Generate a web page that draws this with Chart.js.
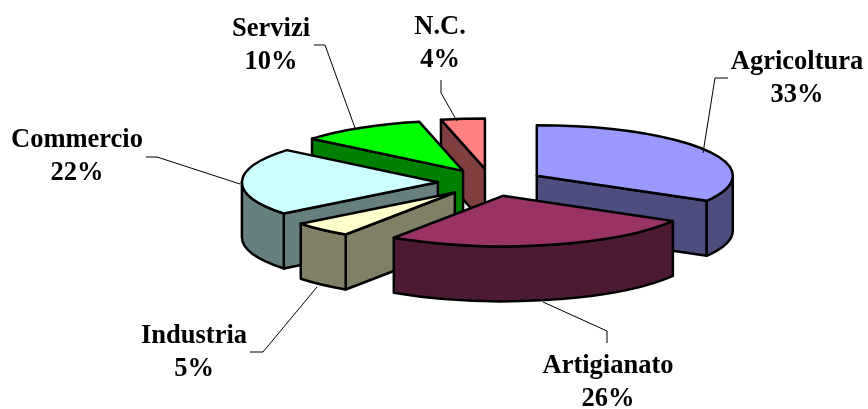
<!DOCTYPE html>
<html>
<head>
<meta charset="utf-8">
<title>Settori</title>
<script src="https://cdn.jsdelivr.net/npm/chart.js@4"></script>
<style>
  html, body { margin: 0; padding: 0; background: #ffffff; }
  canvas { display: block; }
</style>
</head>
<body>
<canvas id="myChart" width="868" height="409"></canvas>
<script>
// values, they round to the printed percentages
const categories = ["Agricoltura", "Artigianato", "Industria", "Commercio", "Servizi", "N.C."];
const shares = [33.3, 26.1, 5, 21.6, 10.4, 3.6];

const topColors = ["#9999ff", "#993366", "#ffffcc", "#ccffff", "#00ff00", "#ff8080"];
const sideColors = ["#4d4d80", "#4d1a33", "#808066", "#668080", "#008000", "#804040"];

// label centre x, first line y, then the leader line points
const labelSpots = [
  { x: 797, y: 62, leader: [[703, 153], [715, 78], [728, 78]] },
  { x: 608, y: 366, leader: [[543, 302], [607, 331], [607, 343]] },
  { x: 194, y: 336, leader: [[317, 287], [263, 352], [250, 352]] },
  { x: 77, y: 140, leader: [[240, 184], [157, 157], [146, 157]] },
  { x: 271, y: 29, leader: [[355, 128], [325, 45], [314, 45]] },
  { x: 440, y: 27, leader: [[457, 121], [441, 93], [441, 80]] },
];

const shiftX = 490.9 - 434;
const shiftY = 182.5 - 204.5;
const squash = 0.2577;
const explode = 53;
const depth = 55;
const lineHeight = 33;

function drawSlice(ctx, arc, i) {
  let a0 = arc.startAngle;
  let a1 = arc.endAngle;
  let mid = (a0 + a1) / 2;
  let cx = arc.x + shiftX + Math.cos(mid) * explode;
  let cy = arc.y + shiftY + Math.sin(mid) * explode * squash;
  let rx = arc.outerRadius;
  let ry = rx * squash;

  ctx.lineWidth = 2.5;
  ctx.lineJoin = "round";
  ctx.strokeStyle = "#000000";
  ctx.fillStyle = sideColors[i];

  // cut faces that look towards the viewer
  [[a0, a0 - Math.PI / 2], [a1, a1 + Math.PI / 2]].forEach(function (face) {
    if (Math.sin(face[1]) <= 0.001) return;
    let px = cx + Math.cos(face[0]) * rx;
    let py = cy + Math.sin(face[0]) * ry;
    ctx.beginPath();
    ctx.moveTo(cx, cy);
    ctx.lineTo(px, py);
    ctx.lineTo(px, py + depth);
    ctx.lineTo(cx, cy + depth);
    ctx.closePath();
    ctx.fill();
    ctx.stroke();
  });

  // rim wall, only the front half of the ellipse shows
  let w0 = Math.max(a0, 0);
  let w1 = Math.min(a1, Math.PI);
  if (w1 > w0) {
    ctx.beginPath();
    ctx.ellipse(cx, cy, rx, ry, 0, w0, w1);
    ctx.ellipse(cx, cy + depth, rx, ry, 0, w1, w0, true);
    ctx.closePath();
    ctx.fill();
    ctx.stroke();
  }

  ctx.fillStyle = topColors[i];
  ctx.beginPath();
  ctx.moveTo(cx, cy);
  ctx.ellipse(cx, cy, rx, ry, 0, a0, a1);
  ctx.closePath();
  ctx.fill();
  ctx.stroke();
}

const pie3d = {
  id: "pie3d",
  beforeDatasetsDraw: function (chart) {
    let ctx = chart.ctx;
    let arcs = chart.getDatasetMeta(0).data;
    let order = arcs.map(function (arc, i) { return i; });
    order.sort(function (p, q) {
      return Math.sin((arcs[p].startAngle + arcs[p].endAngle) / 2) -
        Math.sin((arcs[q].startAngle + arcs[q].endAngle) / 2);
    });
    ctx.save();
    order.forEach(function (i) { drawSlice(ctx, arcs[i], i); });
    ctx.restore();
    return false;
  },
  // returning false above skips afterDatasetsDraw, so labels go here
  afterDraw: function (chart) {
    let ctx = chart.ctx;
    ctx.save();
    ctx.strokeStyle = "#000000";
    ctx.lineWidth = 1;
    labelSpots.forEach(function (spot) {
      ctx.beginPath();
      spot.leader.forEach(function (pt, n) {
        if (n == 0) ctx.moveTo(pt[0], pt[1]);
        else ctx.lineTo(pt[0], pt[1]);
      });
      ctx.stroke();
    });
    ctx.fillStyle = "#000000";
    ctx.font = "bold 26.5px 'Liberation Serif'";
    ctx.textAlign = "center";
    ctx.textBaseline = "middle";
    labelSpots.forEach(function (spot, i) {
      ctx.fillText(categories[i], spot.x, spot.y);
      ctx.fillText(Math.round(shares[i]) + "%", spot.x, spot.y + lineHeight);
    });
    ctx.restore();
  },
};

myChart = new Chart(document.getElementById("myChart"), {
  type: "pie",
  data: {
    labels: categories,
    datasets: [{ data: shares, backgroundColor: topColors, borderWidth: 0 }],
  },
  options: {
    responsive: false,
    animation: false,
    layout: { padding: 8.5 },
    plugins: { legend: { display: false }, tooltip: { enabled: false } },
  },
  plugins: [pie3d],
});
</script>
</body>
</html>
